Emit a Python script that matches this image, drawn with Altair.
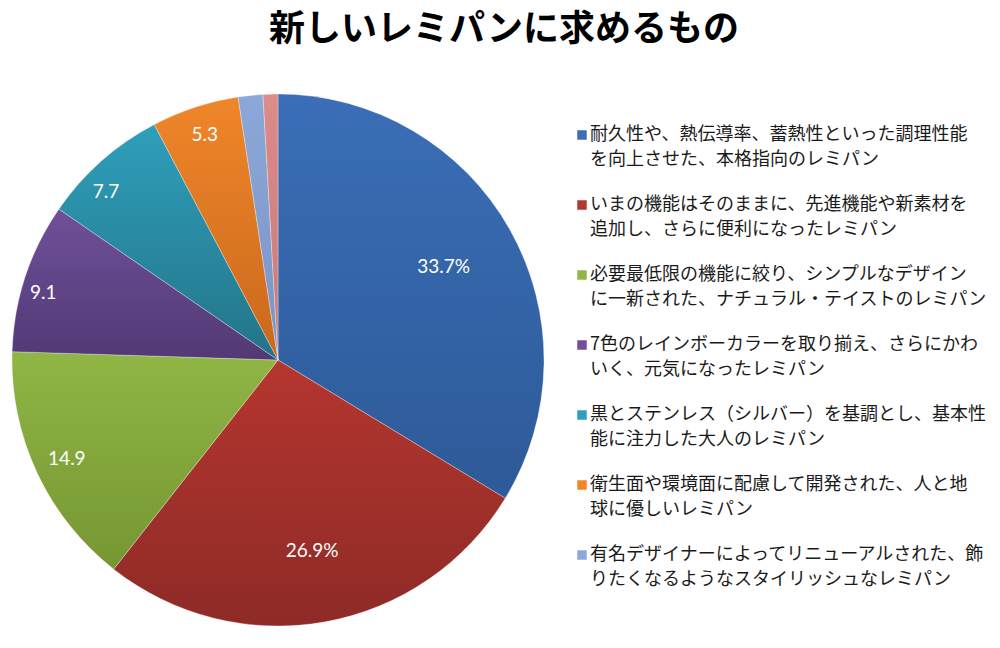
import altair as alt
import pandas as pd

# ---- data ----
categories = [
    "耐久性や、熱伝導率、蓄熱性といった調理性能\nを向上させた、本格指向のレミパン",
    "いまの機能はそのままに、先進機能や新素材を\n追加し、さらに便利になったレミパン",
    "必要最低限の機能に絞り、シンプルなデザイン\nに一新された、ナチュラル・テイストのレミパン",
    "7色のレインボーカラーを取り揃え、さらにかわ\nいく、元気になったレミパン",
    "黒とステンレス（シルバー）を基調とし、基本性\n能に注力した大人のレミパン",
    "衛生面や環境面に配慮して開発された、人と地\n球に優しいレミパン",
    "有名デザイナーによってリニューアルされた、飾\nりたくなるようなスタイリッシュなレミパン",
    "その他",
]
values = [33.7, 26.9, 14.9, 9.1, 7.7, 5.3, 1.5, 0.9]
value_labels = ["33.7%", "26.9%", "14.9", "9.1", "7.7", "5.3", "", ""]
in_legend = [True, True, True, True, True, True, True, False]
title_text = "新しいレミパンに求めるもの"

# ---- styles ----
top_colors = ["#3b6eb7", "#b5362f", "#90b645", "#6f509a", "#2f9fbb", "#f0862a", "#8ca8d8", "#dc8c8a"]
bottom_colors = ["#2d5a98", "#8e2a27", "#769632", "#523975", "#237488", "#c9681c", "#7a94c4", "#c57a78"]
# label placement (radius, dx, dy) per slice, like the original's best-fit labels
label_place = [(190, 0, 0), (192, 0, 2), (233, 0, 0), (247, 0, 10), (232, -18, 6), (235, 0, -2)]

rows = []
for i, (c, v, l, g) in enumerate(zip(categories, values, value_labels, in_legend)):
    parts = c.split("\n")
    rows.append({
        "idx": i, "category": c, "value": v, "label": l, "legend": g,
        "line1": parts[0], "line2": parts[1] if len(parts) > 1 else "",
    })
df = pd.DataFrame(rows)
total = sum(values)

CX, CY, R = 270, 352, 266

base = alt.Chart(df).transform_window(
    cum="sum(value)", sort=[alt.SortField("idx")], frame=[None, 0]
).transform_calculate(
    start="datum.cum - datum.value",
    end="datum.cum",
    mid="datum.cum - datum.value / 2",
)

theta_scale = alt.Scale(domain=[0, total])

layers = []
for i in range(len(categories)):
    grad = alt.LinearGradient(
        gradient="linear", x1=0, y1=0, x2=0, y2=1,
        stops=[alt.GradientStop(color=top_colors[i], offset=0),
               alt.GradientStop(color=bottom_colors[i], offset=1)],
    )
    layers.append(
        base.transform_filter(alt.datum.idx == i).mark_arc(
            outerRadius=R, fill=grad, stroke="#ffffff", strokeWidth=0.6, strokeOpacity=0.5
        ).encode(
            theta=alt.Theta("start:Q", scale=theta_scale, stack=False),
            theta2="end:Q",
            x=alt.value(CX), y=alt.value(CY),
        )
    )

label_layers = []
for i, (rad, dx, dy) in enumerate(label_place):
    label_layers.append(
        base.transform_filter(alt.datum.idx == i).mark_text(
            radius=rad, dx=dx, dy=dy, font="Lato", fontSize=19, color="white"
        ).encode(
            theta=alt.Theta("mid:Q", scale=theta_scale, stack=False),
            text="label:N", x=alt.value(CX), y=alt.value(CY),
        )
    )

legend_y = alt.Y("idx:Q", scale=alt.Scale(domain=[0, 6], range=[127, 547]), axis=None)
legend_base = alt.Chart(df).transform_filter(alt.datum.legend == True)

legend_sq = legend_base.mark_square(size=90, opacity=1).encode(
    x=alt.value(574), y=legend_y,
    color=alt.Color("idx:N", scale=alt.Scale(domain=list(range(len(categories))), range=top_colors), legend=None),
)
legend_t1 = legend_base.mark_text(
    align="left", baseline="middle", font="Noto Sans CJK JP", fontSize=18, color="#1a1a1a"
).encode(x=alt.value(582), y=legend_y, text="line1:N")
legend_t2 = legend_base.mark_text(
    align="left", baseline="middle", font="Noto Sans CJK JP", fontSize=18, color="#1a1a1a", dy=25
).encode(x=alt.value(582), y=legend_y, text="line2:N")

title = alt.Chart(pd.DataFrame({"t": [title_text]})).mark_text(
    font="Noto Sans CJK JP", fontSize=36, fontWeight="bold", color="#000000", align="center", baseline="middle"
).encode(x=alt.value(496), y=alt.value(22), text="t:N")

chart = alt.layer(
    *layers, *label_layers, legend_sq, legend_t1, legend_t2, title
).properties(
    width=984, height=632, autosize=alt.AutoSizeParams(type="none"), padding=0
).configure_view(stroke=None)

chart.save("out.html", embed_options={"renderer": "svg", "actions": False})
